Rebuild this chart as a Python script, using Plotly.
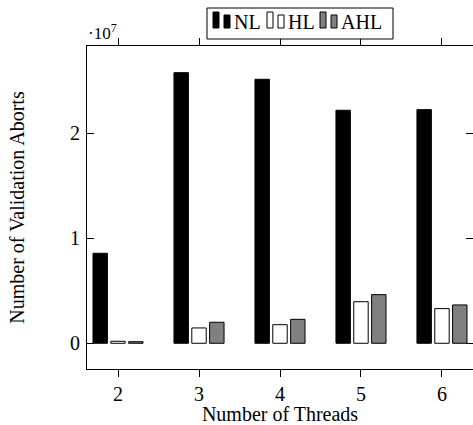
import plotly.graph_objects as go

threads = [2, 3, 4, 5, 6]
nl = [0.857e7, 2.577e7, 2.514e7, 2.219e7, 2.225e7]
hl = [0.019e7, 0.146e7, 0.177e7, 0.396e7, 0.330e7]
ahl = [0.015e7, 0.200e7, 0.228e7, 0.463e7, 0.365e7]
series_names = ["NL", "HL", "AHL"]
series_colors = ["black", "white", "#808080"]
ytick_vals = [0, 1e7, 2e7]
ytick_text = ["0", "1", "2"]

FONT = "Liberation Serif"
W_PX, H_PX = 473, 425
L, R, T, B = 87, 0, 46, 56
PW, PH = W_PX - L - R, H_PX - T - B
W = 0.178
SHIFT = 0.22


def px(x):
    return (x - L) / PW


def py(y):
    return (H_PX - B - y) / PH


fig = go.Figure()
for name, vals, color, sh in zip(series_names, [nl, hl, ahl], series_colors, [-SHIFT, 0.0, SHIFT]):
    fig.add_trace(go.Bar(
        x=threads, y=vals, name=name,
        width=W, offset=sh - W / 2,
        marker=dict(color=color, line=dict(color="black", width=1)),
        showlegend=False,
    ))

fig.update_layout(
    width=W_PX, height=H_PX,
    margin=dict(l=L, r=R, t=T, b=B, autoexpand=False),
    paper_bgcolor="white", plot_bgcolor="white",
    barmode="overlay",
    font=dict(family=FONT, size=20, color="black"),
    showlegend=False,
    xaxis=dict(
        range=[1.617, 6.383], tickvals=threads, ticktext=[str(t) for t in threads],
        ticks="outside", ticklen=7, tickcolor="black", tickwidth=1,
        showline=True, linecolor="black", linewidth=1, mirror="ticks",
        showgrid=False, zeroline=False, automargin=False,
        title=dict(text="Number of Threads", font=dict(family=FONT, size=20), standoff=6),
        tickfont=dict(family=FONT, size=20),
    ),
    yaxis=dict(
        range=[-0.245e7, 2.831e7], tickvals=ytick_vals, ticktext=ytick_text,
        ticks="inside", ticklen=7, tickcolor="black", tickwidth=1,
        showline=True, linecolor="black", linewidth=1, mirror="ticks",
        showgrid=False, zeroline=False, automargin=False,
        title=dict(text="Number of Validation Aborts", font=dict(family=FONT, size=20), standoff=40),
        tickfont=dict(family=FONT, size=20),
        ticklabelstandoff=2,
    ),
)

# scale label
fig.add_annotation(
    xref="paper", yref="paper", x=px(86), y=py(45), xanchor="left", yanchor="bottom",
    text="·10<sup>7</sup>", showarrow=False, font=dict(family=FONT, size=17),
)

# legend (manual, pgfplots-style bar icons)
fig.add_shape(type="rect", xref="paper", yref="paper",
              x0=px(207), x1=px(393), y0=py(39), y1=py(8),
              line=dict(color="black", width=1), fillcolor="white", layer="above")
entry_x = [213, 267, 320]
for name, color, ex in zip(series_names, series_colors, entry_x):
    fig.add_shape(type="rect", xref="paper", yref="paper",
                  x0=px(ex), x1=px(ex + 6), y0=py(28), y1=py(12),
                  line=dict(color="black", width=1), fillcolor=color, layer="above")
    fig.add_shape(type="rect", xref="paper", yref="paper",
                  x0=px(ex + 11), x1=px(ex + 17), y0=py(28), y1=py(15),
                  line=dict(color="black", width=1), fillcolor=color, layer="above")
    fig.add_annotation(xref="paper", yref="paper", x=px(ex + 20), y=py(22),
                       xanchor="left", yanchor="middle", text=name, showarrow=False,
                       font=dict(family=FONT, size=20), borderpad=0)

fig.write_html("out.html", config={"displayModeBar": False},
               post_script="document.body.style.margin='0';")
